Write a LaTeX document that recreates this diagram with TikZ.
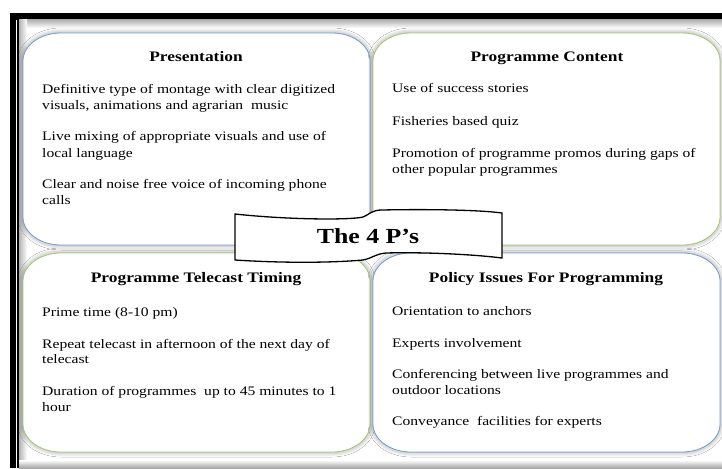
\documentclass[tikz,border=0pt]{standalone}
\usepackage{fontspec}
\setmainfont{Liberation Serif}[FakeStretch=1.2]
\usetikzlibrary{shadows.blur}
\definecolor{boxblue}{RGB}{120,155,210}
\definecolor{boxgreen}{RGB}{168,200,120}
% rounded panel with oval corners: #1 style, (#2,#3) top left, (#4,#5) bottom right
\newcommand\ovalpanel[5]{%
  \draw[#1] (#2+38,#3) -- (#4-38,#3)
    arc[start angle=-90, end angle=0, x radius=38, y radius=28]
    -- (#4,#5-28)
    arc[start angle=0, end angle=90, x radius=38, y radius=28]
    -- (#2+38,#5)
    arc[start angle=90, end angle=180, x radius=38, y radius=28]
    -- (#2,#3+28)
    arc[start angle=180, end angle=270, x radius=38, y radius=28] -- cycle;}
\begin{document}
\begin{tikzpicture}[x=1pt,y=-1pt,
  panel/.style={line width=0.8pt, fill=white,
    blur shadow={shadow xshift=0pt, shadow yshift=0pt, shadow blur radius=5pt, shadow opacity=45}},
  item/.style={anchor=base west, inner sep=0pt, font=\fontsize{13}{16}\selectfont},
  heading/.style={anchor=base, inner sep=0pt, font=\fontsize{14.5}{17}\selectfont\bfseries},
  banner/.style={line width=1.3pt, draw=black, fill=white}]
\useasboundingbox (0,0) rectangle (722,468);

% outer frame
\fill[white] (0,0) rectangle (722,468);
\fill[black] (10,13) rectangle (722,20);
\fill[black] (10,13) rectangle (16,468);
\fill[black] (17,20) rectangle (19,468);
\shade[top color=black!30, bottom color=white] (19,20) rectangle (722,28);
\shade[left color=black!30, right color=white] (19,20) rectangle (27,468);
\shade[top color=white, bottom color=black!35] (19,460) rectangle (722,468);

% the four panels
\ovalpanel{panel, draw=boxblue}{23}{33}{370}{245}
\ovalpanel{panel, draw=boxgreen}{373}{33}{720}{245}
\ovalpanel{panel, draw=boxgreen}{23}{253}{370}{452}
\ovalpanel{panel, draw=boxblue}{373}{253}{720}{452}

% Presentation
\node[heading] (h1) at (196,62) {Presentation};
\node[item] (a1) at (42,94)  {Definitive type of montage with clear digitized};
\node[item] (a2) at (42,110) {visuals, animations and agrarian\ \ music};
\node[item] (a3) at (42,140) {Live mixing of appropriate visuals and use of};
\node[item] (a4) at (42,157) {local language};
\node[item] (a5) at (42,188) {Clear and noise free voice of incoming phone};
\node[item] (a6) at (42,204) {calls};

% Programme Content
\node[heading] (h2) at (547,62) {Programme Content};
\node[item] (b1) at (392,93)  {Use of success stories};
\node[item] (b2) at (392,125) {Fisheries based quiz};
\node[item] (b3) at (392,157) {Promotion of programme promos during gaps of};
\node[item] (b4) at (392,173) {other popular programmes};

% Programme Telecast Timing
\node[heading] (h3) at (196,282) {Programme Telecast Timing};
\node[item] (c1) at (42,316) {Prime time (8-10 pm)};
\node[item] (c2) at (42,348) {Repeat telecast in afternoon of the next day of};
\node[item] (c3) at (42,363) {telecast};
\node[item] (c4) at (42,395) {Duration of programmes\ \ up to 45 minutes to 1};
\node[item] (c5) at (42,411) {hour};

% Policy Issues For Programming
\node[heading] (h4) at (546,282) {Policy Issues For Programming};
\node[item] (d1) at (392,315) {Orientation to anchors};
\node[item] (d2) at (392,347) {Experts involvement};
\node[item] (d3) at (392,378) {Conferencing between live programmes and};
\node[item] (d4) at (392,394) {outdoor locations};
\node[item] (d5) at (392,425) {Conveyance\ \ facilities for experts};

% central wave banner
\draw[banner] (235,214) .. controls (290,220) and (352,220) .. (363,217)
  .. controls (370,214) and (372,210) .. (382,210)
  .. controls (430,209) and (480,210) .. (502,213)
  -- (502,258)
  .. controls (470,254) and (420,252) .. (386,253)
  .. controls (375,254) and (373,258) .. (363,260)
  .. controls (330,263) and (280,263) .. (235,260) -- cycle;
\node[anchor=base, inner sep=0pt, font=\fontsize{21.5}{24}\selectfont\bfseries] (title) at (368,243) {The 4 P’s};
\end{tikzpicture}
\end{document}
